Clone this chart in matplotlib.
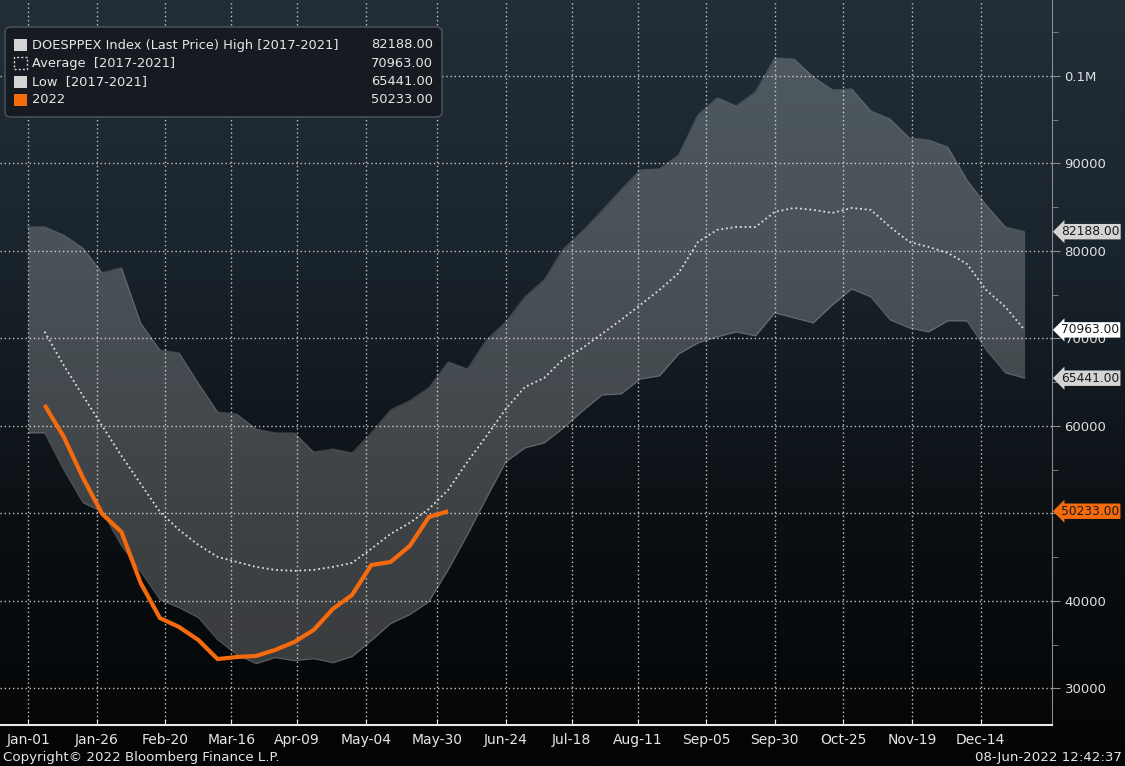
import matplotlib
matplotlib.use('Agg')
import matplotlib.pyplot as plt
import matplotlib.dates as mdates
import numpy as np
import pandas as pd
from matplotlib.colors import LinearSegmentedColormap
from matplotlib.patches import FancyBboxPatch, Rectangle
from matplotlib.ticker import FuncFormatter, MultipleLocator

# weekly DOE data, week ending Friday (2022 calendar used as the seasonal axis)
week_start = '2022-01-07'
n_weeks = 52

high_2017_2021 = [82730, 81810, 80320, 77490, 78060, 71750, 68660, 68320, 64870, 61580,
                  61350, 59640, 59180, 59180, 57010, 57350, 56900, 59180, 61810, 62860,
                  64350, 67300, 66500, 69820, 71870, 74730, 76670, 80210, 82270, 84560,
                  86960, 89240, 89360, 90960, 95530, 97480, 96560, 98160, 102040, 101930,
                  99880, 98390, 98510, 95990, 95080, 92910, 92680, 91880, 88110, 85250,
                  82730, 82188]
low_2017_2021 = [59190, 54950, 51200, 50170, 46290, 43320, 40120, 39210, 38070, 35550,
                 33840, 32810, 33500, 33150, 33380, 32920, 33610, 35440, 37380, 38410,
                 39890, 43520, 47530, 51750, 55870, 57470, 58040, 59750, 61700, 63520,
                 63640, 65350, 65700, 68210, 69470, 70160, 70730, 70270, 72900, 72330,
                 71760, 73810, 75640, 74730, 72100, 71190, 70730, 71990, 71990, 68680,
                 66050, 65441]
avg_2017_2021 = [70760, 66890, 63420, 59990, 56560, 53360, 50160, 48100, 46390, 45020,
                 44440, 43870, 43530, 43420, 43530, 43870, 44330, 45930, 47640, 48900,
                 50500, 52670, 55870, 58840, 61930, 64440, 65470, 67640, 68900, 70500,
                 72100, 73810, 75530, 77470, 81010, 82390, 82730, 82730, 84450, 84900,
                 84680, 84330, 84900, 84680, 82730, 81020, 80450, 79760, 78510, 75530,
                 73590, 70963]
y2022 = [62380, 58720, 54040, 49920, 47860, 42030, 38030, 37000, 35520, 33340,
         33570, 33690, 34380, 35290, 36660, 39060, 40660, 44090, 44430, 46260,
         49580, 50233]

tick_dates = ['2022-01-01', '2022-01-26', '2022-02-20', '2022-03-16', '2022-04-09',
              '2022-05-04', '2022-05-30', '2022-06-24', '2022-07-18', '2022-08-11',
              '2022-09-05', '2022-09-30', '2022-10-25', '2022-11-19', '2022-12-14']

weeks = pd.date_range(week_start, periods=n_weeks, freq='7D')
# the band is drawn from Jan-01 with the first week's values
band_x = [pd.Timestamp('2022-01-01')] + list(weeks)
band_hi = [high_2017_2021[0]] + high_2017_2021
band_lo = [low_2017_2021[0]] + low_2017_2021

W, H = 1125, 766
fig = plt.figure(figsize=(W / 100, H / 100), dpi=100)

# gradient background over the whole figure
bg = fig.add_axes([0, 0, 1, 1], zorder=-10)
cmap = LinearSegmentedColormap.from_list('bb', ['#030405', '#0b1014', '#1a242c', '#212e38'])
grad = np.linspace(0, 1, 256).reshape(-1, 1)
bg.imshow(grad, aspect='auto', cmap=cmap, origin='lower', extent=[0, 1, 0, 1])
bg.axis('off')

ax = fig.add_axes([0, 41 / H, 1052 / W, 1 - 41 / H])
ax.set_facecolor('none')

orange = '#f56a0c'
ax.fill_between(band_x, band_lo, band_hi, color='white', alpha=0.21, lw=0, zorder=2)
ax.plot(band_x, band_hi, color='white', alpha=0.18, lw=0.9, zorder=2)
ax.plot(band_x, band_lo, color='white', alpha=0.18, lw=0.9, zorder=2)
ax.plot(weeks, avg_2017_2021, color='#e0e0e0', lw=1.3, ls=(0, (1, 1.6)), zorder=3)
ax.plot(weeks[:len(y2022)], y2022, color=orange, lw=3, zorder=4,
        solid_capstyle='butt', solid_joinstyle='miter')

ax.set_xlim(pd.Timestamp('2021-12-21 18:00'), pd.Timestamp('2023-01-09'))
ax.set_ylim(25800, 108670)

ticks = pd.to_datetime(tick_dates)
ax.set_xticks(ticks)
ax.xaxis.set_major_formatter(mdates.DateFormatter('%b-%d'))
ax.yaxis.tick_right()
ax.yaxis.set_major_locator(MultipleLocator(10000))
ax.yaxis.set_minor_locator(MultipleLocator(5000))
ax.yaxis.set_major_formatter(FuncFormatter(lambda v, p: '0.1M' if v >= 100000 else f'{v:.0f}'))

ax.grid(True, which='major', color='#c4c4c4', lw=1, ls=(0, (1, 2)), zorder=1)
ax.set_axisbelow(True)

ax.tick_params(axis='x', colors='#e6e6e6', labelsize=10, length=4, direction='in', pad=6)
ax.tick_params(axis='y', which='major', colors='#8c8c8c', labelcolor='#e0e0e0',
               labelsize=9.5, length=6, direction='out', pad=3)
ax.tick_params(axis='y', which='minor', colors='#8c8c8c', length=4, direction='out')

for s in ['left', 'top']:
    ax.spines[s].set_visible(False)
ax.spines['right'].set_color('#8c8c8c')
ax.spines['bottom'].set_color('#e8e8e8')
ax.spines['bottom'].set_linewidth(1.5)

# last value tags on the right axis
tags = [(high_2017_2021[-1], '#d4d4d4'), (avg_2017_2021[-1], '#ffffff'),
        (low_2017_2021[-1], '#d4d4d4'), (y2022[-1], orange)]
trans = ax.get_yaxis_transform()
for val, col in tags:
    ax.text(1.0085, val, f'{val:.2f}', transform=trans, ha='left', va='center',
            fontsize=8.8, color='#1a1a1a', clip_on=False, zorder=10,
            bbox=dict(boxstyle='larrow,pad=0.1', fc=col, ec='none'))

# legend box
def fx(x):
    return x / W

def fy(y):
    return 1 - y / H

box = FancyBboxPatch((fx(5), fy(117)), fx(437), 90 / H, transform=fig.transFigure,
                     boxstyle='round,pad=0,rounding_size=0.006', fc='#151b20',
                     ec='#50565c', lw=1, zorder=20)
fig.patches.append(box)
labels = ['DOESPPEX Index (Last Price) High [2017-2021]', 'Average  [2017-2021]',
          'Low  [2017-2021]', '2022']
values = [high_2017_2021[-1], avg_2017_2021[-1], low_2017_2021[-1], y2022[-1]]
swatch = ['#d4d4d4', None, '#d4d4d4', orange]
for i, (lab, val, sw) in enumerate(zip(labels, values, swatch)):
    yc = 45 + i * 18.3
    if sw is None:
        r = Rectangle((fx(14), fy(yc + 6)), 13 / W, 12 / H, transform=fig.transFigure,
                      fc='none', ec='#d4d4d4', lw=1, ls=(0, (1.5, 1.5)), zorder=21)
    else:
        r = Rectangle((fx(14), fy(yc + 6)), 13 / W, 12 / H, transform=fig.transFigure,
                      fc=sw, ec='none', zorder=21)
    fig.patches.append(r)
    fig.text(fx(32), fy(yc), lab, ha='left', va='center', fontsize=9.4,
             color='#e6e6e6', zorder=22)
    fig.text(fx(433), fy(yc), f'{val:.2f}', ha='right', va='center', fontsize=9.4,
             color='#e6e6e6', zorder=22)

fig.text(fx(3), fy(757), 'Copyright\u00a9 2022 Bloomberg Finance L.P.', ha='left',
         va='center', fontsize=9.6, color='#e6e6e6')
fig.text(fx(1122), fy(757), '08-Jun-2022 12:42:37', ha='right', va='center',
         fontsize=9.6, color='#e6e6e6')

fig.savefig('out.png', dpi=100)
